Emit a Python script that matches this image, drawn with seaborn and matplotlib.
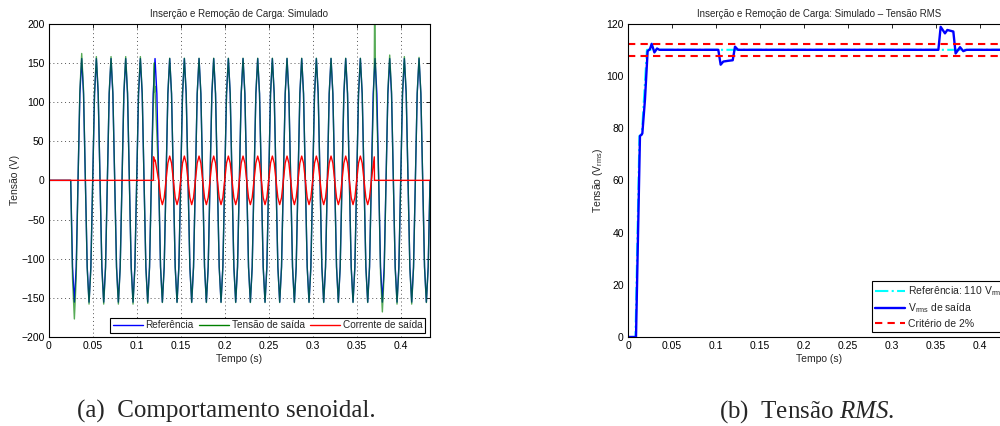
import numpy as np
import matplotlib
matplotlib.use("Agg")
import matplotlib.pyplot as plt
import seaborn as sns
from matplotlib.lines import Line2D
from matplotlib.ticker import FuncFormatter, MultipleLocator

# ---------------- data: panel (a) sinusoidal behaviour ----------------
t_end = 0.4333          # right limit of the time axis (s)
t_on = 0.025            # reference switched on (s)
quarter = 1 / 240       # quarter period of 60 Hz: zero crossings / extrema
# extrema (alternating trough / peak), starting at t_on + quarter
ref_ext = [-155.5, 155.5] * 24 + [-155.5]
out_ext = ([-177, 162, -158, 158, -158, 158, -158, 158, -158, 158, -157, np.nan, -156]
           + [156, -156] * 14
           + [np.nan, -168, 160, -158, 158, -158, 157, -156])
# load insertion (sag) and load removal (overshoot) on the output voltage
out_extra_t = [0.1200, 0.1203, 0.1207, 0.3700, 0.3704, 0.3711]
out_extra_v = [150, 113, 120, 150, 235, 160]
# output current: extrema between quarter 24 and quarter 82
cur_k_first, cur_k_last = 24, 82
cur_ext = [-31, 31] * 14 + [-31]
cur_extra_t = [0.0, 0.1190, 0.1192, 0.1200, 0.1210, 0.3700, 0.3702, 0.4333]
cur_extra_v = [0, 0, 30, 25, 26, 30, 0, 0]
# height of the curve half-way through each quarter
mid_frac = 0.71

# ---------------- data: panel (b) RMS ----------------
rms_t = [0, 0.0091, 0.0136, 0.0155, 0.0163, 0.0193, 0.0223, 0.0250, 0.0269, 0.0300,
         0.0330, 0.0357, 0.1026, 0.1053, 0.1083, 0.1140, 0.1190, 0.1216, 0.1250,
         0.3527, 0.3553, 0.3602, 0.3629, 0.3697, 0.3723, 0.3773, 0.3810, 0.3848, 0.4333]
rms_v = [0, 0, 77, 77.5, 78, 91, 109.5, 110.3, 112.3, 109, 110.5, 110, 110, 104.3,
         105.5, 105.8, 106, 111.2, 110, 110, 118.8, 116.3, 117.6, 117, 108.6, 111,
         109.5, 110, 110]
rms_ref_t = [0, 0.0085, 0.0130, 0.0150, 0.0158, 0.0215, 0.4333]
rms_ref_v = [0, 0, 77, 77.5, 78, 110, 110]
crit_hi, crit_lo = 112.2, 107.8

# ---------------- build vertex arrays ----------------
k = np.arange(99)
tg = t_on + k * quarter


def with_mids(t, v):
    """add the half-quarter points between a zero crossing and an extremum"""
    tm, vm = [], []
    for i in range(len(t) - 1):
        a, b = v[i], v[i + 1]
        if (a == 0) != (b == 0) and not np.isnan(a) and not np.isnan(b):
            tm.append((t[i] + t[i + 1]) / 2)
            vm.append(mid_frac * (a if a != 0 else b))
    return np.r_[t, tm], np.r_[v, vm]


def wave(ext):
    v = np.zeros(len(k))
    v[1::2] = ext
    return v


rt, rv = with_mids(tg, wave(ref_ext))
ref_t = np.r_[0.0, rt]
ref_v = np.r_[0.0, rv]
o = np.argsort(ref_t, kind="stable")
ref_t, ref_v = ref_t[o], ref_v[o]

ov = wave(out_ext)
keep = ~np.isnan(ov)
ot, ovv = with_mids(tg[keep], ov[keep])
out_t = np.r_[0.0, ot, out_extra_t]
out_v = np.r_[0.0, ovv, out_extra_v]
o = np.argsort(out_t, kind="stable")
out_t, out_v = out_t[o], out_v[o]

kc = np.arange(cur_k_first, cur_k_last + 1)
cv = np.zeros(len(kc))
cv[1::2] = cur_ext
ct, cvv = with_mids(t_on + kc * quarter, cv)
cur_t = np.r_[ct, cur_extra_t]
cur_v = np.r_[cvv, cur_extra_v]
o = np.argsort(cur_t, kind="stable")
cur_t, cur_v = cur_t[o], cur_v[o]

# ---------------- style ----------------
sns.set_theme(style="white")
plt.rcParams["font.family"] = ["Liberation Sans", "DejaVu Sans"]
plt.rcParams["mathtext.fontset"] = "custom"
plt.rcParams["mathtext.it"] = "Liberation Serif:italic"
plt.rcParams["mathtext.rm"] = "Liberation Serif"

W, H = 1000, 426
fig = plt.figure(figsize=(W / 100, H / 100), dpi=100)
ax1 = fig.add_axes([48.7 / W, 1 - 337 / H, 381.3 / W, 313.3 / H])
ax2 = fig.add_axes([628 / W, 1 - 337 / H, 381.3 / W, 313.3 / H])

fmt = FuncFormatter(lambda x, p: ("%g" % x).replace("-", "\u2212"))
for ax in (ax1, ax2):
    ax.set_facecolor("white")
    for s in ax.spines.values():
        s.set_color("black")
        s.set_linewidth(0.8)
    ax.tick_params(direction="in", top=True, right=True, length=3, width=0.6,
                   labelsize=7.5, pad=3, colors="black")
    ax.xaxis.set_major_locator(MultipleLocator(0.05))
    ax.xaxis.set_major_formatter(fmt)
    ax.yaxis.set_major_formatter(fmt)
    ax.set_xlim(0, t_end)

BLUE, GREEN, RED, CYAN = "#0000ff", "#008000", "#ff0000", "#00ffff"

# ---- panel (a) ----
sns.lineplot(x=ref_t, y=ref_v, ax=ax1, color=BLUE, lw=1.0, estimator=None, sort=False)
sns.lineplot(x=out_t, y=out_v, ax=ax1, color=GREEN, lw=1.0, alpha=0.66, estimator=None, sort=False)
sns.lineplot(x=cur_t, y=cur_v, ax=ax1, color=RED, lw=1.0, estimator=None, sort=False)
ax1.set_ylim(-200, 200)
ax1.yaxis.set_major_locator(MultipleLocator(50))
ax1.grid(True, linestyle=(0, (1, 3)), color="#555555", linewidth=0.7)
ax1.set_axisbelow(True)
ax1.set_title("Inserção e Remoção de Carga: Simulado", fontsize=7, pad=5)
ax1.set_xlabel("Tempo (s)", fontsize=7.5)
ax1.set_ylabel("Tensão (V)", fontsize=7.5)
ax1.xaxis.set_label_coords(0.5, -0.055)
ax1.yaxis.set_label_coords(-0.075, 0.5)
h1 = [Line2D([], [], color=BLUE, lw=1.0), Line2D([], [], color=GREEN, lw=1.0),
      Line2D([], [], color=RED, lw=1.0)]
leg1 = ax1.legend(h1, ["Referência", "Tensão de saída", "Corrente de saída"],
                  ncol=3, fontsize=7.2, loc="lower right",
                  bbox_to_anchor=(425 / W, 1 - 333 / H), bbox_transform=fig.transFigure,
                  borderaxespad=0, fancybox=False, framealpha=1, edgecolor="black",
                  handlelength=3.0, columnspacing=0.5, handletextpad=0.3,
                  borderpad=0.25)
leg1.get_frame().set_linewidth(0.8)

# ---- panel (b) ----
sns.lineplot(x=rms_ref_t, y=rms_ref_v, ax=ax2, color=CYAN, lw=1.5, linestyle="-.",
             estimator=None, sort=False)
sns.lineplot(x=rms_t, y=rms_v, ax=ax2, color=BLUE, lw=1.7, estimator=None, sort=False)
ax2.axhline(crit_hi, color=RED, lw=1.5, linestyle=(0, (3.5, 2.5)))
ax2.axhline(crit_lo, color=RED, lw=1.5, linestyle=(0, (3.5, 2.5)))
ax2.set_ylim(0, 120)
ax2.yaxis.set_major_locator(MultipleLocator(20))
ax2.set_title("Inserção e Remoção de Carga: Simulado \u2013 Tensão RMS", fontsize=7, pad=5)
ax2.set_xlabel("Tempo (s)", fontsize=7.5)
ax2.set_ylabel(r"Tensão (V$_{\mathregular{rms}}$)", fontsize=7.5)
ax2.xaxis.set_label_coords(0.5, -0.055)
ax2.yaxis.set_label_coords(-0.06, 0.5)
h2 = [Line2D([], [], color=CYAN, lw=1.5, linestyle="-."),
      Line2D([], [], color=BLUE, lw=1.7),
      Line2D([], [], color=RED, lw=1.5, linestyle=(0, (3.5, 2.5)))]
leg2 = ax2.legend(h2, [r"Referência: 110 V$_{\mathregular{rms}}$",
                       r"V$_{\mathregular{rms}}$ de saída", "Critério de 2%"],
                  fontsize=7.5, loc="lower left",
                  bbox_to_anchor=(872 / W, 1 - 332 / H), bbox_transform=fig.transFigure,
                  borderaxespad=0, fancybox=False, framealpha=1, edgecolor="black",
                  handlelength=2.9, handletextpad=0.3, borderpad=0.3, labelspacing=0.35)
leg2.get_frame().set_linewidth(0.8)

# ---- captions ----
fig.text(226 / W, 1 - 418 / H, "(a)  Comportamento senoidal.", fontsize=18,
         family="Liberation Serif", ha="center", va="baseline")
fig.text(807 / W, 1 - 418 / H, r"(b)  Tensão $\mathit{RMS}$.", fontsize=18,
         family="Liberation Serif", ha="center", va="baseline")

fig.savefig("out.png", dpi=100, facecolor="white")
